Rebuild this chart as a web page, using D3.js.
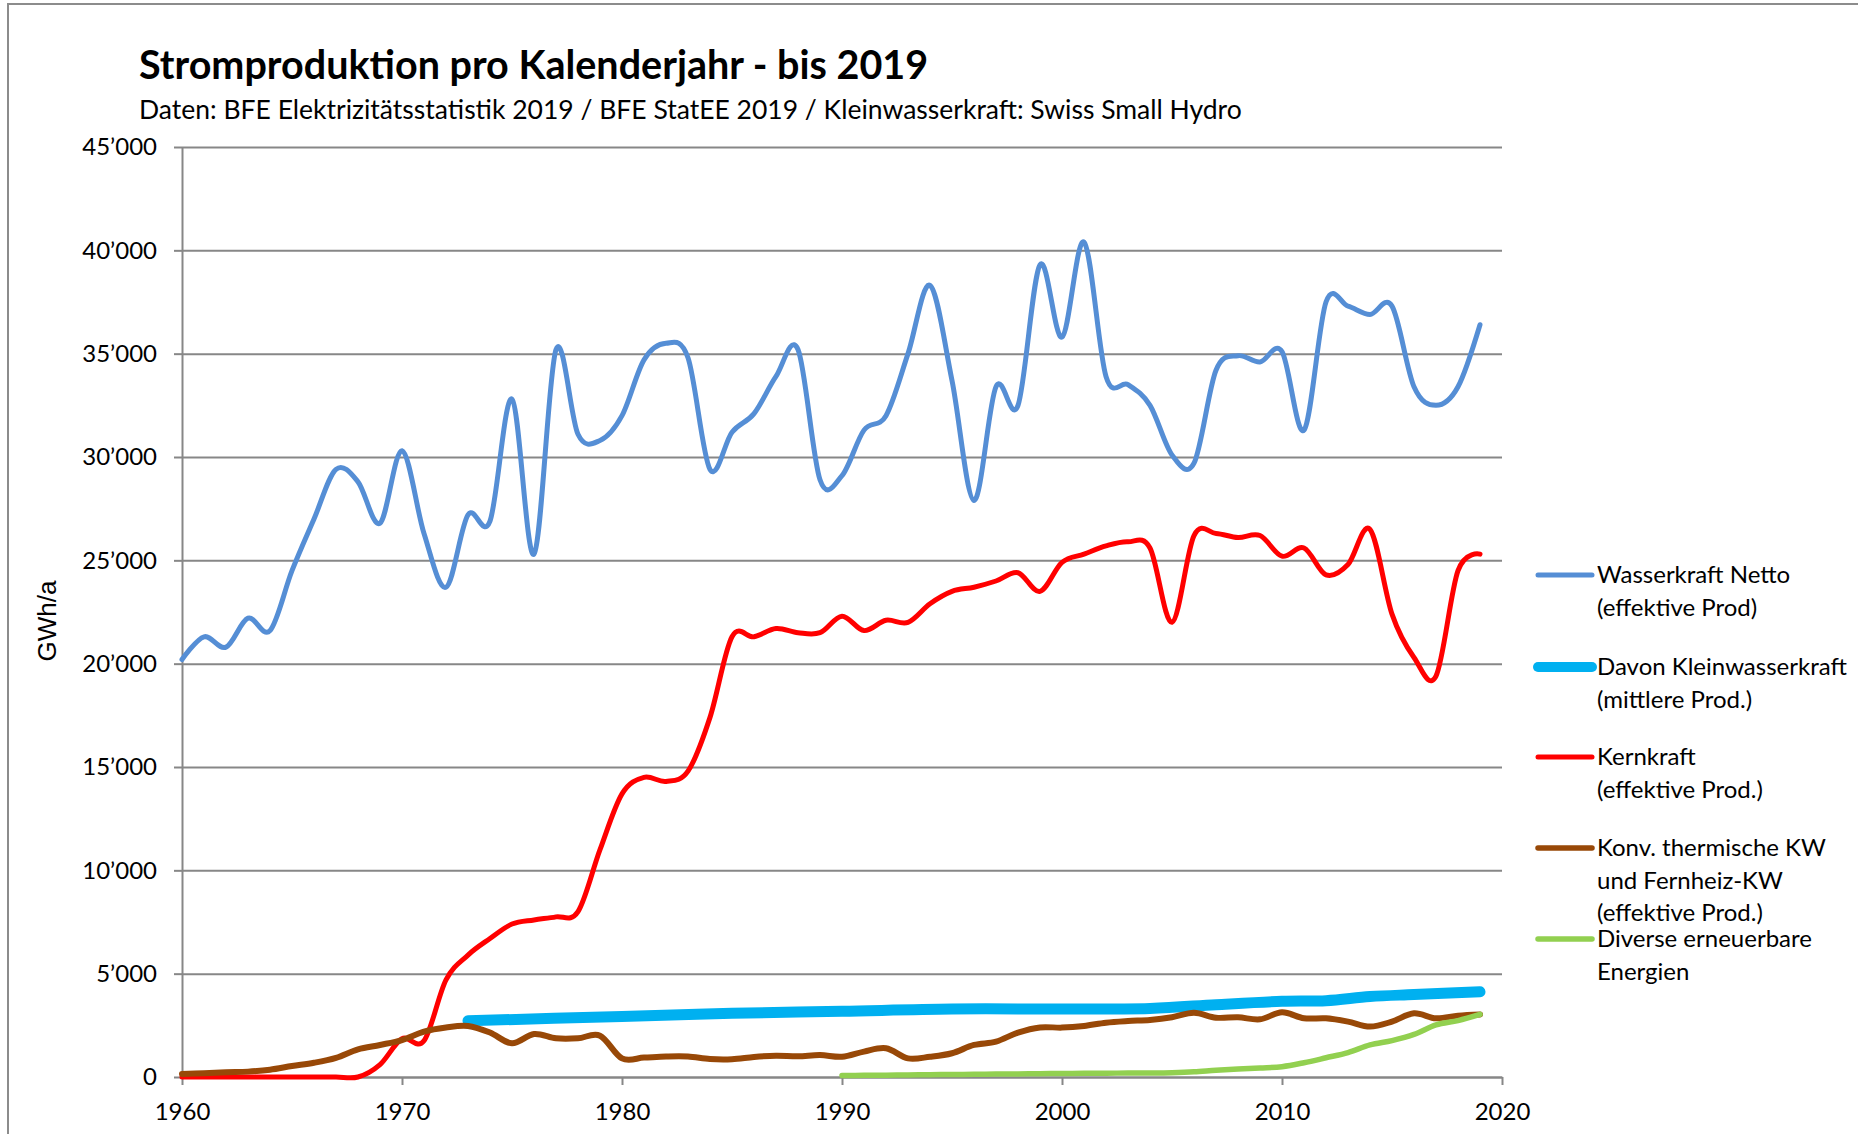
<!DOCTYPE html>
<html>
<head>
<meta charset="utf-8">
<script src="https://cdn.jsdelivr.net/npm/d3@7"></script>
<style>
    body { margin: 0; background: #fff; }
    text { font-family: Lato, "Open Sans", sans-serif; fill: #000; }
</style>
</head>
<body>
<div id="chart-area"></div>
<script>
// Jahre 1960 - 2019
const years = d3.range(1960, 2020);

const wasserkraft = [
    20200, 21300, 20800, 22200, 21600, 24500, 27000, 29400, 28800, 26800,
    30300, 26300, 23700, 27200, 26900, 32800, 25300, 35200, 31100, 30800,
    32000, 34700, 35500, 34800, 29400, 31200, 32100, 33900, 35200, 28900,
    29100, 31300, 32000, 35000, 38300, 33700, 27900, 33400, 32500, 39300,
    35800, 40400, 33900, 33500, 32500, 30100, 29700, 34200, 34900, 34600,
    35100, 31300, 37500, 37300, 36900, 37300, 33400, 32500, 33400, 36400
];

const kernkraft = [
    0, 0, 0, 0, 0, 0, 0, 0, 0, 600,
    1850, 1750, 4700, 5900, 6700, 7400, 7600, 7750, 8000, 11000,
    13700, 14500, 14300, 14800, 17400, 21300, 21300, 21700, 21500, 21500,
    22300, 21600, 22100, 22000, 22900, 23500, 23700, 24000, 24400, 23500,
    24900, 25300, 25700, 25900, 25600, 22000, 26200, 26300, 26100, 26200,
    25200, 25600, 24300, 24800, 26500, 22400, 20300, 19400, 24500, 25300
];

const thermisch = [
    150, 180, 230, 260, 350, 530, 690, 930, 1340, 1550,
    1790, 2200, 2400, 2470, 2150, 1630, 2080, 1870, 1870, 2000,
    900, 940, 990, 990, 870, 860, 970, 1030, 1000, 1060,
    980, 1230, 1390, 900, 980, 1150, 1550, 1710, 2150, 2400,
    2390, 2470, 2630, 2710, 2760, 2890, 3110, 2870, 2890, 2790,
    3130, 2840, 2840, 2680, 2440, 2680, 3080, 2840, 2970, 3030
];

// Diverse erneuerbare ab 1990
const diverseYears = d3.range(1990, 2020);
const diverse = [
    70, 80, 90, 100, 110, 120, 130, 140, 150, 160,
    170, 180, 185, 190, 195, 210, 250, 330, 390, 440,
    500, 690, 930, 1180, 1550, 1760, 2060, 2520, 2730, 3030
];

// Kleinwasserkraft (mittlere Prod.)
const kleinYears = [1973, 1980, 1985, 1990, 1995, 2000, 2004, 2007, 2010, 2012, 2014, 2016, 2019];
const kleinwasser = [2720, 2930, 3080, 3180, 3290, 3290, 3320, 3500, 3660, 3690, 3890, 3990, 4120];

const yTicks = [0, 5000, 10000, 15000, 20000, 25000, 30000, 35000, 40000, 45000];
const xTicks = [1960, 1970, 1980, 1990, 2000, 2010, 2020];

const legendLabels = [
    ["Wasserkraft Netto", "(effektive Prod)"],
    ["Davon Kleinwasserkraft", "(mittlere Prod.)"],
    ["Kernkraft", "(effektive Prod.)"],
    ["Konv. thermische KW", "und Fernheiz-KW", "(effektive Prod.)"],
    ["Diverse erneuerbare", "Energien"]
];

const colors = ["#558ed5", "#00b0f0", "#ff0000", "#984807", "#92d050"];
const widths = [5, 11, 5, 6, 5.5];
const legendWidths = [5, 10, 5, 5.5, 5.5];
const legendY = [575, 667, 757, 848, 939];

const series = [
    years.map((d, i) => ({ x: d, y: wasserkraft[i] })),
    kleinYears.map((d, i) => ({ x: d, y: kleinwasser[i] })),
    years.map((d, i) => ({ x: d, y: kernkraft[i] })),
    years.map((d, i) => ({ x: d, y: thermisch[i] })),
    diverseYears.map((d, i) => ({ x: d, y: diverse[i] }))
];

const margin = {
    left: 182,
    right: 356,
    top: 147,
    bottom: 57
};

const width = 1858 - margin.left - margin.right;
const height = 1134 - margin.top - margin.bottom;

const svg = d3.select("#chart-area")
    .append("svg")
    .attr("width", 1858)
    .attr("height", 1134);

// Rahmen
svg.append("rect")
    .attr("x", 8)
    .attr("y", 4)
    .attr("width", 1900)
    .attr("height", 1200)
    .attr("fill", "none")
    .attr("stroke", "#8c8c8c")
    .attr("stroke-width", 2);

// Titel
svg.append("text")
    .attr("x", 139)
    .attr("y", 79)
    .attr("font-size", "39.5px")
    .attr("font-weight", "bold")
    .text("Stromproduktion pro Kalenderjahr - bis 2019");

svg.append("text")
    .attr("x", 139)
    .attr("y", 119)
    .attr("font-size", "26.5px")
    .text("Daten: BFE Elektrizitätsstatistik 2019 / BFE StatEE 2019 / Kleinwasserkraft: Swiss Small Hydro");

const g = svg.append("g")
    .attr("transform", "translate(" + margin.left + ", " + margin.top + ")");

// X Scale
const x = d3.scaleLinear()
    .domain([1960, 2020])
    .range([0, width]);

// Y Scale
const y = d3.scaleLinear()
    .domain([0, 45000])
    .range([height, 0]);

const locale = d3.formatLocale({ decimal: ".", thousands: "’", grouping: [3], currency: ["", ""] });
const fmt = locale.format(",");

// Gridlines
g.append("g")
    .attr("class", "grid")
    .call(d3.axisLeft(y).tickValues(yTicks).tickSize(-width).tickFormat(""))
    .call(s => s.select(".domain").remove())
    .call(s => s.selectAll("line").attr("stroke", "#878787").attr("stroke-width", 2));

// Y Axis
const yAxisGroup = g.append("g")
    .attr("class", "y axis")
    .call(d3.axisLeft(y).tickValues(yTicks).tickSize(8).tickSizeOuter(0).tickPadding(17).tickFormat(fmt));

// X Axis
const xAxisGroup = g.append("g")
    .attr("class", "x axis")
    .attr("transform", "translate(0," + height + ")")
    .call(d3.axisBottom(x).tickValues(xTicks).tickSize(8).tickSizeOuter(0).tickPadding(18).tickFormat(d3.format("d")));

g.selectAll(".axis .domain, .axis line")
    .attr("stroke", "#878787")
    .attr("stroke-width", 2);

g.selectAll(".axis text")
    .attr("font-family", "Lato, sans-serif")
    .attr("font-size", "24px")
    .attr("fill", "#000");

// Y Label
svg.append("text")
    .attr("x", -621)
    .attr("y", 56)
    .attr("font-size", "26px")
    .attr("text-anchor", "middle")
    .attr("transform", "rotate(-90)")
    .style("font-family", "'Liberation Sans Narrow', 'Liberation Sans', sans-serif")
    .text("GWh/a");

// Lines
const line = d3.line()
    .x(d => x(d.x))
    .y(d => y(d.y))
    .curve(d3.curveCatmullRom.alpha(0));

g.selectAll(".series")
    .data(series)
    .enter()
    .append("path")
    .attr("class", "series")
    .attr("d", line)
    .attr("fill", "none")
    .attr("stroke", (d, i) => colors[i])
    .attr("stroke-width", (d, i) => widths[i])
    .attr("stroke-linecap", "round")
    .attr("stroke-linejoin", "round");

// Legend
const legend = svg.selectAll(".legend")
    .data(legendLabels)
    .enter()
    .append("g")
    .attr("class", "legend")
    .attr("transform", (d, i) => "translate(0," + legendY[i] + ")");

legend.append("line")
    .attr("x1", 1538)
    .attr("x2", 1592)
    .attr("stroke", (d, i) => colors[i])
    .attr("stroke-width", (d, i) => legendWidths[i])
    .attr("stroke-linecap", "round");

legend.each(function(d) {
    const t = d3.select(this).append("text")
        .attr("x", 1597)
        .attr("y", 8)
        .attr("font-size", "24px");
    d.forEach((s, j) => {
        t.append("tspan")
            .attr("x", 1597)
            .attr("dy", j === 0 ? 0 : 32.5)
            .text(s);
    });
});
</script>
</body>
</html>
